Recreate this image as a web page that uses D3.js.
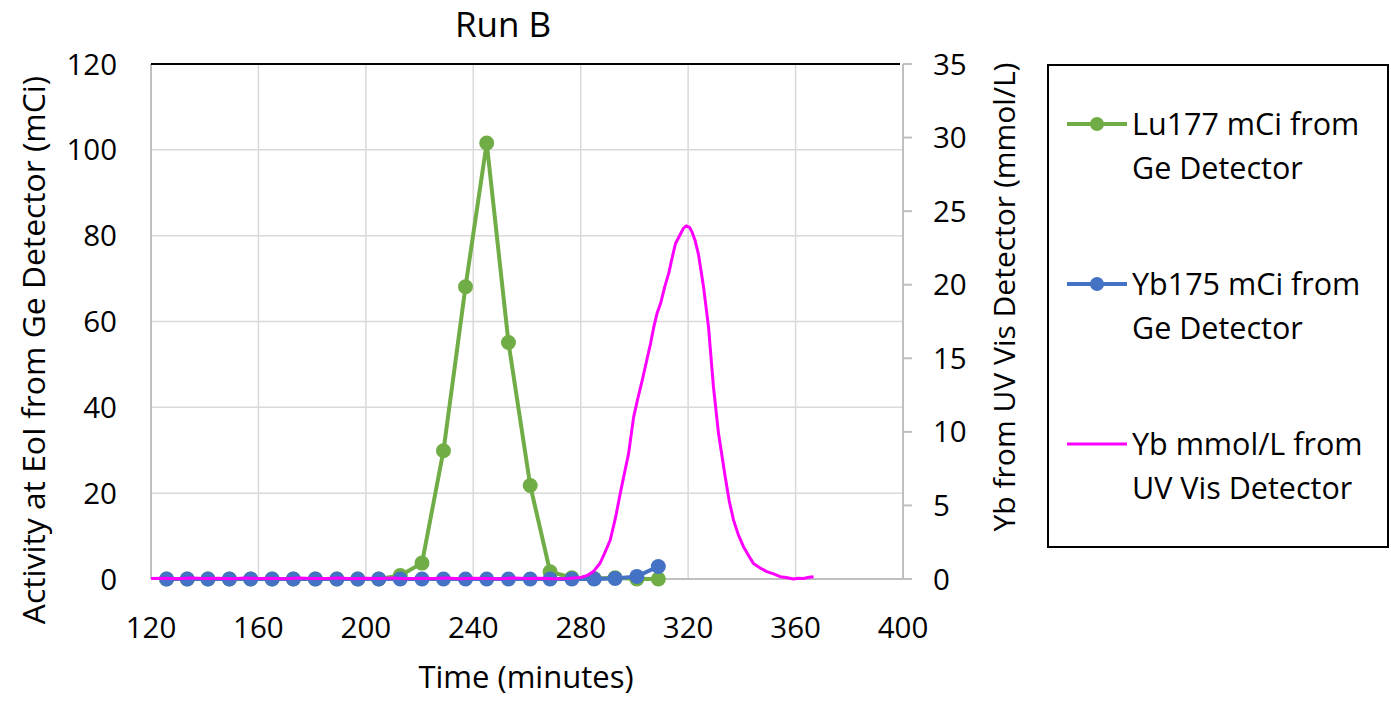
<!DOCTYPE html>
<html>
<head>
<meta charset="utf-8">
<script src="https://cdn.jsdelivr.net/npm/d3@7"></script>
<style>
  html, body { margin: 0; padding: 0; background: #fff; }
  svg { display: block; }
  text { font-family: "Open Sans", Lato, sans-serif; fill: #000; }
</style>
</head>
<body>
<svg id="chart" width="1391" height="701"></svg>
<script>
// ---- Data ----
const geTime = [125.8, 133.5, 141.2, 149.2, 157.1, 165.1, 173.0, 181.2, 189.2, 197.0, 204.8, 212.8,
                220.9, 228.9, 237.1, 245.0, 253.1, 261.2, 268.6, 276.7, 285.0, 292.8, 300.9, 308.9];
const lu177 = [0, 0, 0, 0, 0, 0, 0, 0, 0, 0, 0, 0.8,
               3.7, 29.9, 68.1, 101.6, 55.1, 21.8, 1.7, 0.3, 0.1, 0.3, 0, 0];
const yb175 = [0, 0, 0, 0, 0, 0, 0, 0, 0, 0, 0, 0,
               0, 0, 0, 0, 0, 0, 0, 0, 0, 0.1, 0.6, 2.9];
const uvTime = [120, 125, 130, 135, 140, 145, 150, 155, 160, 165, 170, 175, 180, 185, 190, 195,
                200, 205, 210, 215, 220, 225, 230, 235, 240, 245, 250, 255, 260, 265, 270, 275, 280,
                282.5, 284.7, 287.2, 289.0, 291.0, 293.0, 294.7, 296.3, 297.8, 299.7, 301.3, 302.9,
                304.5, 306.0, 307.3, 308.5, 309.7, 311.2, 312.8, 314.0, 315.3, 317.0, 318.3, 319.3,
                320.5, 321.4, 322.6, 323.8, 325.7, 327.6, 329.4, 331.3, 333.8, 335.3, 336.9, 338.7,
                340.6, 342.5, 344.3, 346.8, 349.3, 351.8, 354.3, 356.5, 359.2, 361.0, 363.0, 365.0, 366.7];
const ybUV = [0.03, 0.05, 0.02, 0.06, 0.03, 0.05, 0.02, 0.07, 0.03, 0.05, 0.02, 0.06, 0.04, 0.03, 0.06, 0.02,
              0.05, 0.03, 0.07, 0.02, 0.05, 0.03, 0.06, 0.02, 0.05, 0.04, 0.02, 0.06, 0.03, 0.05, 0.02, 0.04, 0.1,
              0.25, 0.5, 1.07, 1.8, 2.65, 4.2, 5.8, 7.2, 8.5, 11.0, 12.3, 13.5,
              14.8, 16.0, 17.2, 18.1, 18.7, 19.8, 20.8, 21.8, 22.8, 23.4, 23.85, 24.0,
              23.9, 23.6, 23.0, 22.1, 19.9, 17.1, 13.1, 9.9, 6.95, 5.3, 4.0, 3.0,
              2.2, 1.6, 1.06, 0.75, 0.5, 0.35, 0.16, 0.1, 0.0, 0.05, 0.03, 0.12, 0.16];

const xTicks = [120, 160, 200, 240, 280, 320, 360, 400];
const yLeftTicks = [0, 20, 40, 60, 80, 100, 120];
const yRightTicks = [0, 5, 10, 15, 20, 25, 30, 35];

const seriesNames = [["Lu177 mCi from", "Ge Detector"], ["Yb175 mCi from", "Ge Detector"], ["Yb mmol/L from", "UV Vis Detector"]];
const colors = ["#70AD47", "#4472C4", "#FF00FF"];

// ---- Layout ----
const svg = d3.select("#chart");
const L = 151, R = 903, T = 64, B = 579;
const x = d3.scaleLinear().domain([120, 400]).range([L, R]);
const yL = d3.scaleLinear().domain([0, 120]).range([B, T]);
const yR = d3.scaleLinear().domain([0, 35]).range([B, T]);

// gridlines
const grid = svg.append("g");
grid.selectAll("line.v").data(xTicks.filter(d => d > 120 && d < 400)).enter().append("line")
  .attr("x1", d => x(d)).attr("x2", d => x(d)).attr("y1", T).attr("y2", B)
  .attr("stroke", "#d9d9d9").attr("stroke-width", 1.5);
grid.selectAll("line.h").data(yLeftTicks.filter(d => d > 0 && d < 120)).enter().append("line")
  .attr("x1", L).attr("x2", R).attr("y1", d => yL(d)).attr("y2", d => yL(d))
  .attr("stroke", "#d9d9d9").attr("stroke-width", 1.5);

// axes lines
svg.append("line").attr("x1", L).attr("x2", L).attr("y1", T).attr("y2", B).attr("stroke", "#bfbfbf").attr("stroke-width", 2);
svg.append("line").attr("x1", L).attr("x2", R).attr("y1", B).attr("y2", B).attr("stroke", "#bfbfbf").attr("stroke-width", 2);
svg.append("line").attr("x1", R).attr("x2", R).attr("y1", T).attr("y2", B).attr("stroke", "#bfbfbf").attr("stroke-width", 2);
svg.append("line").attr("x1", L).attr("x2", R - 3).attr("y1", T).attr("y2", T).attr("stroke", "#000").attr("stroke-width", 2);

// right axis ticks
svg.append("g").selectAll("line").data(yRightTicks).enter().append("line")
  .attr("x1", R).attr("x2", R + 9).attr("y1", d => yR(d)).attr("y2", d => yR(d))
  .attr("stroke", "#bfbfbf").attr("stroke-width", 2);

// tick labels
const fs = 29.5;
svg.append("g").selectAll("text").data(yLeftTicks).enter().append("text")
  .attr("x", 117).attr("y", d => yL(d)).attr("dy", "0.36em")
  .attr("text-anchor", "end").attr("font-size", fs).text(d => d);
svg.append("g").selectAll("text").data(yRightTicks).enter().append("text")
  .attr("x", 933).attr("y", d => yR(d)).attr("dy", "0.36em")
  .attr("text-anchor", "start").attr("font-size", fs).text(d => d);
svg.append("g").selectAll("text").data(xTicks).enter().append("text")
  .attr("x", d => x(d)).attr("y", 638)
  .attr("text-anchor", "middle").attr("font-size", fs).text(d => d);

// titles
svg.append("text").attr("x", 503).attr("y", 37).attr("text-anchor", "middle").attr("font-size", 35).text("Run B");
svg.append("text").attr("x", 526).attr("y", 688).attr("text-anchor", "middle").attr("font-size", 31).text("Time (minutes)");
svg.append("text").attr("transform", "translate(45,350) rotate(-90)").attr("text-anchor", "middle").attr("font-size", 31.8)
  .text("Activity at EoI from Ge Detector (mCi)");
svg.append("text").attr("transform", "translate(1015,297) rotate(-90)").attr("text-anchor", "middle").attr("font-size", 30)
  .text("Yb from UV Vis Detector (mmol/L)");

// series
const geLu = geTime.map((t, i) => [t, lu177[i]]);
const geYb = geTime.map((t, i) => [t, yb175[i]]);
const uv = uvTime.map((t, i) => [t, ybUV[i]]);

const lineL = d3.line().x(d => x(d[0])).y(d => yL(d[1]));
const lineR = d3.line().x(d => x(d[0])).y(d => yR(d[1]));

function drawMarkerSeries(data, color) {
  svg.append("path").datum(data).attr("d", lineL).attr("fill", "none")
    .attr("stroke", color).attr("stroke-width", 4).attr("stroke-linejoin", "round");
  svg.append("g").selectAll("circle").data(data).enter().append("circle")
    .attr("cx", d => x(d[0])).attr("cy", d => yL(d[1])).attr("r", 7.5).attr("fill", color);
}
drawMarkerSeries(geLu, colors[0]);
drawMarkerSeries(geYb, colors[1]);
svg.append("path").datum(uv).attr("d", lineR).attr("fill", "none")
  .attr("stroke", colors[2]).attr("stroke-width", 3).attr("stroke-linejoin", "round");

// legend
svg.append("rect").attr("x", 1048).attr("y", 65).attr("width", 340).attr("height", 482)
  .attr("fill", "none").attr("stroke", "#000").attr("stroke-width", 2);
const legY = [124, 284, 444];
seriesNames.forEach((names, i) => {
  const g = svg.append("g");
  g.append("line").attr("x1", 1067).attr("x2", 1127).attr("y1", legY[i]).attr("y2", legY[i])
    .attr("stroke", colors[i]).attr("stroke-width", i < 2 ? 4 : 3);
  if (i < 2) g.append("circle").attr("cx", 1097).attr("cy", legY[i]).attr("r", 7).attr("fill", colors[i]);
  g.append("text").attr("x", 1132).attr("y", legY[i] + 11).attr("font-size", 30.5).text(names[0]);
  g.append("text").attr("x", 1132).attr("y", legY[i] + 55).attr("font-size", 30.5).text(names[1]);
});
</script>
</body>
</html>
